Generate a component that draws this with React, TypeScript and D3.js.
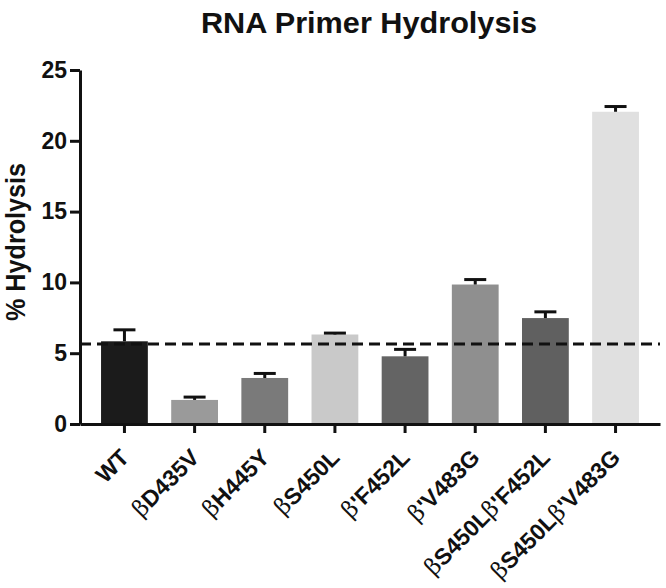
import * as d3 from "d3";
import { useEffect, useRef } from "react";

// chart size and margins
const width = 666;
const height = 588;
const marginTop = 70;
const marginLeft = 80;
const axisRight = 660;
const axisBottom = 424;

const categories = [
  "WT",
  "βD435V",
  "βH445Y",
  "βS450L",
  "β'F452L",
  "β'V483G",
  "βS450Lβ'F452L",
  "βS450Lβ'V483G",
];
const means = [5.84, 1.7, 3.25, 6.32, 4.78, 9.85, 7.48, 22.05];
const errTops = [6.65, 1.9, 3.57, 6.42, 5.27, 10.2, 7.92, 22.42];
const barColors = ["#1b1b1b", "#9a9a9a", "#7a7a7a", "#c9c9c9", "#646464", "#8f8f8f", "#606060", "#e0e0e0"];
const yTicks = [0, 5, 10, 15, 20, 25];
const reference = 5.65;

const font = "'Liberation Sans', Arial, sans-serif";

const App = () => {
  const ref = useRef<SVGSVGElement | null>(null);

  useEffect(() => {
    const svg = d3.select(ref.current);
    svg.selectAll("*").remove();

    const x = d3
      .scaleBand()
      .domain(categories)
      .range([marginLeft, axisRight])
      .paddingInner(0.333)
      .paddingOuter(0.3);

    const y = d3.scaleLinear().domain([0, 25]).range([axisBottom, marginTop]);

    // title (narrow bold face, squeezed to fit)
    svg
      .append("text")
      .attr("x", 369)
      .attr("y", 33)
      .attr("text-anchor", "middle")
      .attr("font-family", font)
      .attr("font-weight", "bold")
      .attr("font-size", 30)
      .attr("textLength", 336)
      .attr("lengthAdjust", "spacingAndGlyphs")
      .attr("fill", "#111")
      .text("RNA Primer Hydrolysis");

    // bars
    svg
      .append("g")
      .selectAll("rect")
      .data(categories)
      .join("rect")
      .attr("x", (d) => x(d)!)
      .attr("y", (d, i) => y(means[i]))
      .attr("width", x.bandwidth())
      .attr("height", (d, i) => y(0) - y(means[i]))
      .attr("fill", (d, i) => barColors[i]);

    // error bars (upper only)
    const eb = svg.append("g").attr("stroke", "#111").attr("stroke-width", 3);
    categories.forEach((c, i) => {
      const cx = x(c)! + x.bandwidth() / 2;
      eb.append("line")
        .attr("x1", cx).attr("x2", cx)
        .attr("y1", y(means[i])).attr("y2", y(errTops[i]));
      eb.append("line")
        .attr("x1", cx - 11).attr("x2", cx + 11)
        .attr("y1", y(errTops[i])).attr("y2", y(errTops[i]));
    });

    // dashed reference line
    svg
      .append("line")
      .attr("x1", marginLeft)
      .attr("x2", axisRight)
      .attr("y1", y(reference))
      .attr("y2", y(reference))
      .attr("stroke", "#111")
      .attr("stroke-width", 3)
      .attr("stroke-dasharray", "11,6");

    // y axis
    const ya = svg
      .append("g")
      .attr("transform", `translate(${marginLeft},0)`)
      .call(d3.axisLeft(y).tickValues(yTicks).tickSize(10).tickPadding(3).tickSizeOuter(0));
    ya.select(".domain").attr("stroke", "#111").attr("stroke-width", 3);
    ya.selectAll(".tick line").attr("stroke", "#111").attr("stroke-width", 3);
    ya.selectAll(".tick text")
      .attr("font-family", font)
      .attr("font-weight", "bold")
      .attr("font-size", 23)
      .attr("fill", "#111");

    // x axis
    const xa = svg
      .append("g")
      .attr("transform", `translate(0,${axisBottom})`)
      .call(d3.axisBottom(x).tickSize(9).tickSizeOuter(0).tickFormat(() => ""));
    xa.select(".domain").attr("stroke", "#111").attr("stroke-width", 3);
    xa.selectAll(".tick line").attr("stroke", "#111").attr("stroke-width", 3);

    // rotated category labels, β drawn in a lighter face
    categories.forEach((c) => {
      const cx = x(c)! + x.bandwidth() / 2;
      const t = svg
        .append("text")
        .attr("transform", `translate(${cx + 6},${axisBottom + 35}) rotate(-45)`)
        .attr("text-anchor", "end")
        .attr("font-family", font)
        .attr("font-weight", "bold")
        .attr("font-size", 23)
        .attr("fill", "#111");
      c.split(/(β)/).filter((s) => s.length).forEach((s) => {
        t.append("tspan")
          .attr("font-weight", s === "β" ? "normal" : "bold")
          .attr("font-family", s === "β" ? "'DejaVu Serif', serif" : font)
          .text(s);
      });
    });

    // y label
    svg
      .append("text")
      .attr("transform", `translate(25,242) rotate(-90)`)
      .attr("text-anchor", "middle")
      .attr("font-family", font)
      .attr("font-weight", "bold")
      .attr("font-size", 28)
      .attr("textLength", 158)
      .attr("lengthAdjust", "spacingAndGlyphs")
      .attr("fill", "#111")
      .text("% Hydrolysis");
  }, []);

  return (
    <svg
      ref={ref}
      width={width}
      height={height}
      style={{ position: "absolute", left: 0, top: 0, background: "#fff" }}
    />
  );
};

export default App;
